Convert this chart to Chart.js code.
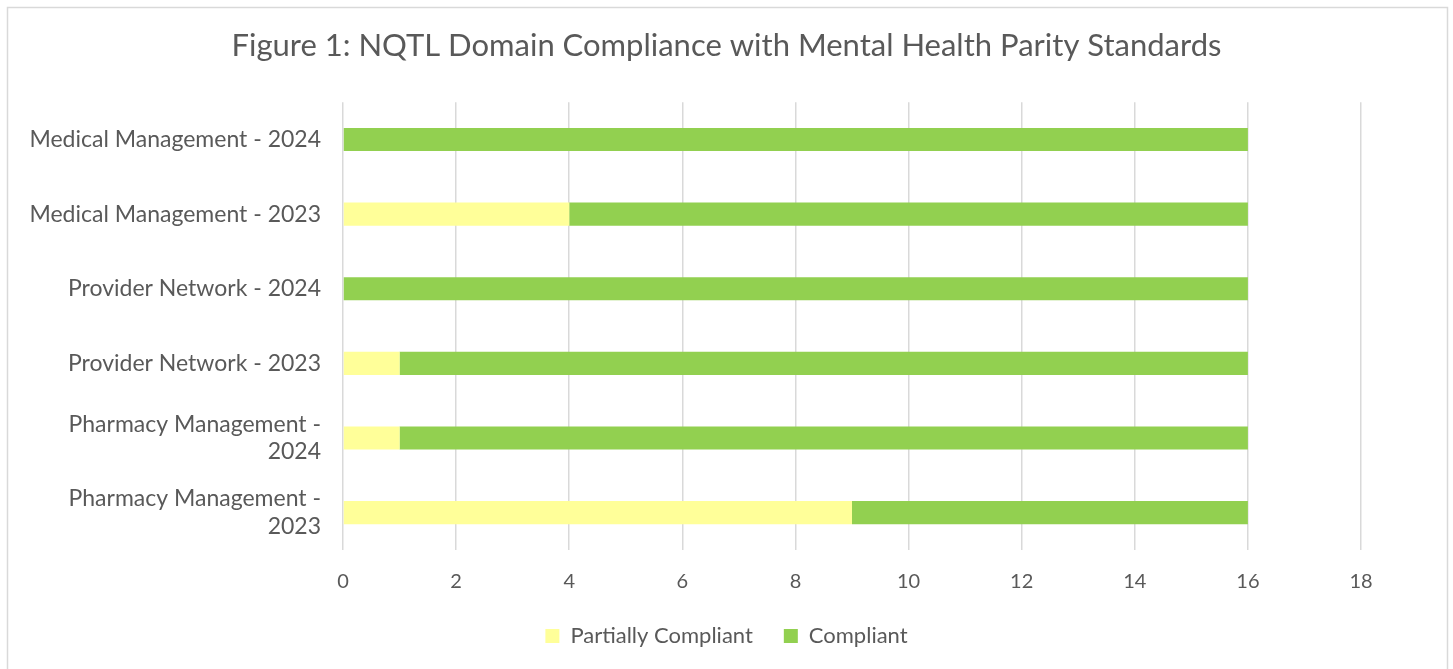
<!DOCTYPE html>
<html>
<head>
<meta charset="utf-8">
<script src="https://cdn.jsdelivr.net/npm/chart.js@4.4.1/dist/chart.umd.min.js"></script>
<style>
  html, body { margin: 0; padding: 0; background: #fff; }
  #wrap { position: absolute; left: 0; top: 0; width: 1453px; height: 669px; }
</style>
</head>
<body>
<div id="wrap"><canvas id="c"></canvas></div>
<script>
const categories = [
  "Medical Management - 2024",
  "Medical Management - 2023",
  "Provider Network - 2024",
  "Provider Network - 2023",
  ["Pharmacy Management -", "2024"],
  ["Pharmacy Management -", "2023"]
];
const partiallyCompliant = [0, 4, 0, 1, 1, 9];
const compliant = [16, 12, 16, 15, 15, 7];
const seriesNames = ["Partially Compliant", "Compliant"];
const xTicks = [0, 2, 4, 6, 8, 10, 12, 14, 16, 18];
const titleText = "Figure 1: NQTL Domain Compliance with Mental Health Parity Standards";

const FONT = "Lato, 'Open Sans', sans-serif";
const TEXT = "#595959";

const borderPlugin = {
  id: 'outerBorder',
  beforeDraw(chart) {
    const ctx = chart.ctx;
    ctx.save();
    ctx.fillStyle = '#ffffff';
    ctx.fillRect(0, 0, chart.width, chart.height);
    ctx.strokeStyle = '#d9d9d9';
    ctx.lineWidth = 1.5;
    ctx.strokeRect(7.5, 7.5, 1440, 700);
    ctx.restore();
  }
};

new Chart(document.getElementById('c'), {
  type: 'bar',
  data: {
    labels: categories,
    datasets: [
      { label: seriesNames[0], data: partiallyCompliant, backgroundColor: '#FFFF99', borderWidth: 0 },
      { label: seriesNames[1], data: compliant, backgroundColor: '#92D050', borderWidth: 0 }
    ]
  },
  options: {
    indexAxis: 'y',
    responsive: true,
    maintainAspectRatio: false,
    animation: false,
    devicePixelRatio: 1,
    layout: { padding: { left: 0, right: 0, top: 0, bottom: 12 } },
    datasets: { bar: { barPercentage: 0.31, categoryPercentage: 1 } },
    scales: {
      x: {
        stacked: true,
        min: 0, max: 18,
        afterBuildTicks(scale) { scale.ticks = xTicks.map(v => ({ value: v })); },
        afterFit(scale) { scale.height = 44; },
        grid: { display: true, color: '#d9d9d9', lineWidth: 1.5, drawTicks: false },
        border: { display: false },
        ticks: { color: TEXT, font: { family: FONT, size: 20 }, padding: 20 }
      },
      y: {
        stacked: true,
        afterFit(scale) { scale.width = 343; },
        grid: { display: false, drawTicks: false },
        border: { display: false },
        ticks: { color: TEXT, font: { family: FONT, size: 23 }, padding: 22, autoSkip: false }
      },
      yRight: {
        type: 'category',
        position: 'right',
        labels: [''],
        afterFit(scale) { scale.width = 92; },
        grid: { display: false, drawTicks: false },
        border: { display: false },
        ticks: { display: false }
      }
    },
    plugins: {
      title: {
        display: true,
        text: titleText,
        color: TEXT,
        font: { family: FONT, size: 31, weight: 'normal' },
        padding: { top: 27, bottom: 38 }
      },
      legend: {
        position: 'bottom',
        labels: {
          color: TEXT,
          font: { family: FONT, size: 22 },
          boxWidth: 14,
          boxHeight: 14,
          padding: 31
        }
      },
      tooltip: { enabled: false }
    }
  },
  plugins: [borderPlugin]
});
</script>
</body>
</html>
